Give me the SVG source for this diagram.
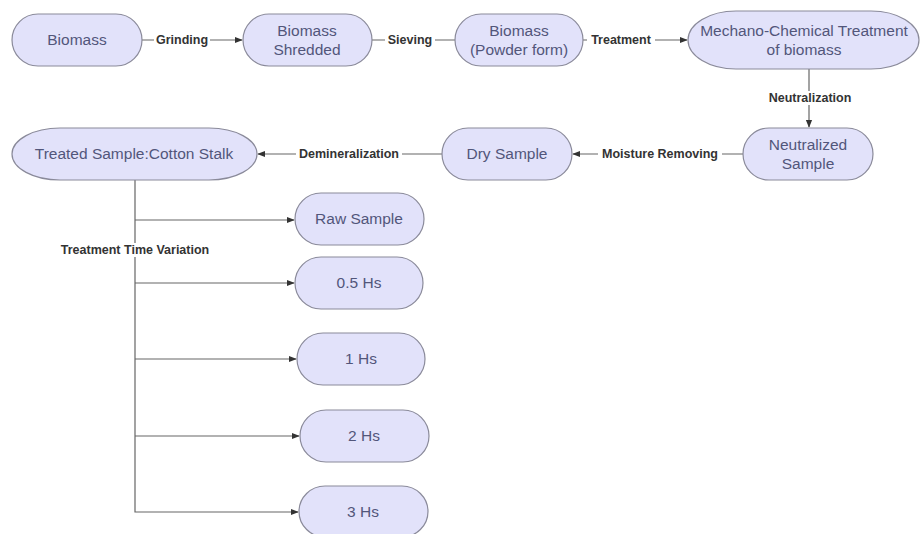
<svg xmlns="http://www.w3.org/2000/svg" width="921" height="534" viewBox="0 0 921 534">
<defs>
<style>
.n{fill:#e2e2fa;stroke:#8a8a9a;stroke-width:1.2}
.t{font-family:"Liberation Sans",Arial,sans-serif;font-size:15.5px;fill:#52567a;text-anchor:middle}
.l{font-family:"Liberation Sans",Arial,sans-serif;font-size:12.5px;font-weight:bold;fill:#333;text-anchor:middle}
.c{stroke:#666;stroke-width:1.2;fill:none}
.bg{fill:#fff}
</style>
<marker id="a" viewBox="0 0 10 10" refX="9" refY="5" markerWidth="8" markerHeight="8" orient="auto" markerUnits="userSpaceOnUse"><path d="M0,1 L10,5 L0,9 z" fill="#333"/></marker>
</defs>
<rect width="921" height="534" fill="#fff"/>
<g id="connectors">
<line class="c" x1="142" y1="40" x2="242" y2="40" marker-end="url(#a)"/>
<rect class="bg" x="154" y="33" width="56" height="14"/><text class="l" x="182" y="44">Grinding</text>
<line class="c" x1="372" y1="40" x2="455" y2="40"/>
<rect class="bg" x="385" y="33" width="50" height="14"/><text class="l" x="410" y="44">Sieving</text>
<line class="c" x1="583" y1="40" x2="687" y2="40" marker-end="url(#a)"/>
<rect class="bg" x="587" y="33" width="68" height="14"/><text class="l" x="621" y="44">Treatment</text>
<line class="c" x1="809" y1="69" x2="809" y2="127" marker-end="url(#a)"/>
<rect class="bg" x="760" y="91" width="100" height="14"/><text class="l" x="810" y="102">Neutralization</text>
<line class="c" x1="743" y1="154" x2="573" y2="154" marker-end="url(#a)"/>
<rect class="bg" x="598" y="147" width="124" height="14"/><text class="l" x="660" y="158">Moisture Removing</text>
<line class="c" x1="442" y1="154" x2="258" y2="154" marker-end="url(#a)"/>
<rect class="bg" x="296" y="147" width="106" height="14"/><text class="l" x="349" y="158">Demineralization</text>
<polyline class="c" points="135,180 135,512 298,512" marker-end="url(#a)"/>
<line class="c" x1="135" y1="220" x2="294" y2="220" marker-end="url(#a)"/>
<line class="c" x1="135" y1="283" x2="294" y2="283" marker-end="url(#a)"/>
<line class="c" x1="135" y1="359" x2="296" y2="359" marker-end="url(#a)"/>
<line class="c" x1="135" y1="436" x2="299" y2="436" marker-end="url(#a)"/>
<rect class="bg" x="56" y="243" width="158" height="14"/><text class="l" x="135" y="254">Treatment Time Variation</text>
</g>
<g id="biomass"><rect class="n" x="12" y="14" width="130" height="52" rx="26"/><text class="t" x="77" y="45">Biomass</text></g>
<g id="shredded"><rect class="n" x="243" y="14" width="129" height="52" rx="26"/><text class="t" x="307" y="36">Biomass</text><text class="t" x="307" y="55">Shredded</text></g>
<g id="powder"><rect class="n" x="455" y="14" width="128" height="52" rx="26"/><text class="t" x="519" y="36">Biomass</text><text class="t" x="519" y="55">(Powder form)</text></g>
<g id="mechano"><rect class="n" x="688" y="11" width="231" height="58" rx="48" ry="29"/><text class="t" x="804" y="36">Mechano-Chemical Treatment</text><text class="t" x="804" y="55">of biomass</text></g>
<g id="neutralized"><rect class="n" x="743" y="128" width="130" height="52" rx="26"/><text class="t" x="808" y="150">Neutralized</text><text class="t" x="808" y="169">Sample</text></g>
<g id="dry"><rect class="n" x="442" y="128" width="130" height="52" rx="26"/><text class="t" x="507" y="159">Dry Sample</text></g>
<g id="treated"><rect class="n" x="12" y="128" width="245" height="52" rx="48" ry="26"/><text class="t" x="134" y="159">Treated Sample:Cotton Stalk</text></g>
<g id="raw"><rect class="n" x="295" y="193" width="129" height="52" rx="26"/><text class="t" x="359" y="224">Raw Sample</text></g>
<g id="h05"><rect class="n" x="295" y="257" width="128" height="52" rx="26"/><text class="t" x="359" y="288">0.5 Hs</text></g>
<g id="h1"><rect class="n" x="297" y="333" width="128" height="52" rx="26"/><text class="t" x="361" y="364">1 Hs</text></g>
<g id="h2"><rect class="n" x="300" y="410" width="129" height="52" rx="26"/><text class="t" x="364" y="441">2 Hs</text></g>
<g id="h3"><rect class="n" x="299" y="486" width="129" height="51" rx="26"/><text class="t" x="363" y="517">3 Hs</text></g>
</svg>
